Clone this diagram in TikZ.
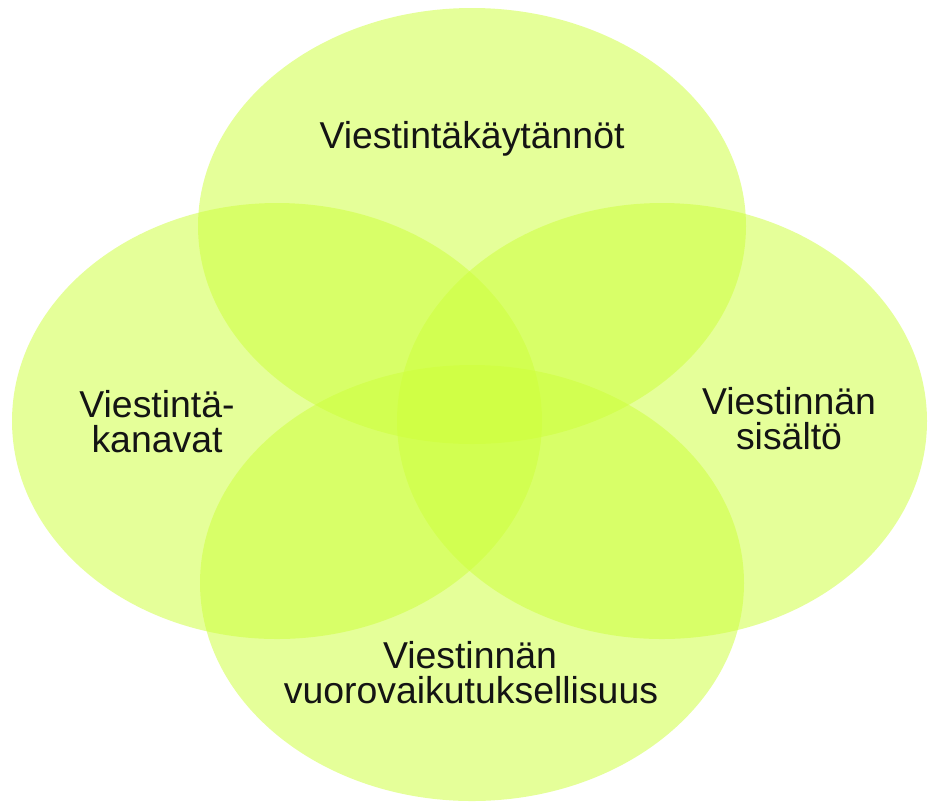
\documentclass[tikz,border=0pt]{standalone}
\usepackage{fontspec}
\setmainfont{Liberation Sans}
\definecolor{vennfill}{RGB}{205,255,59}
\begin{document}
\begin{tikzpicture}[x=1pt,y=-1pt,
  blob/.style={fill=vennfill,fill opacity=0.52},
  lbl/.style={anchor=base,inner sep=0pt,text=black!92,
    font=\fontsize{37.4}{36}\selectfont}]
\useasboundingbox (0,0) rectangle (928,807);
% four overlapping translucent ellipses
\fill[blob] (472,226) ellipse [x radius=274, y radius=218];
\fill[blob] (277,421) ellipse [x radius=265, y radius=218];
\fill[blob] (662,421) ellipse [x radius=265, y radius=218];
\fill[blob] (472,583) ellipse [x radius=272, y radius=218];
% labels
\node[lbl] (top) at (472,148) {Viestintäkäytännöt};
\node[lbl] (left1) at (157,417) {Viestintä-};
\node[lbl] (left2) at (157,452) {kanavat};
\node[lbl] (right1) at (789,414) {Viestinnän};
\node[lbl] (right2) at (789,449) {sisältö};
\node[lbl] (bottom1) at (470,668) {Viestinnän};
\node[lbl] (bottom2) at (471,703) {vuorovaikutuksellisuus};
\end{tikzpicture}
\end{document}
